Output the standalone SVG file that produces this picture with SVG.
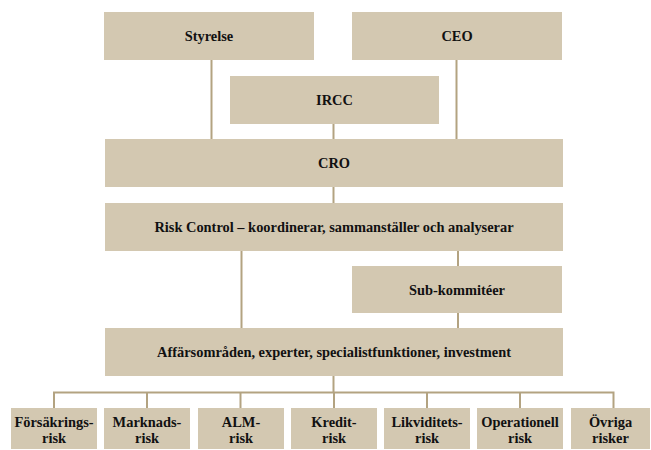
<svg xmlns="http://www.w3.org/2000/svg" width="651" height="450" viewBox="0 0 651 450">
<style>
.box{fill:#D3C8B1}
.t{font-family:"Liberation Serif","Times New Roman",serif;font-weight:bold;font-size:14.4px;fill:#111;text-anchor:middle}
.c{stroke:#B3A381;stroke-width:2;fill:none}
</style>
<rect width="651" height="450" fill="#fff"/>
<g id="connectors">
<line class="c" x1="211.5" y1="60" x2="211.5" y2="139"/>
<line class="c" x1="456.5" y1="60" x2="456.5" y2="139"/>
<line class="c" x1="333.5" y1="124" x2="333.5" y2="139"/>
<line class="c" x1="333.5" y1="187" x2="333.5" y2="203"/>
<line class="c" x1="241.5" y1="251" x2="241.5" y2="328"/>
<line class="c" x1="458" y1="251" x2="458" y2="266"/>
<line class="c" x1="458" y1="313" x2="458" y2="328"/>
<line class="c" x1="333.5" y1="376" x2="333.5" y2="393"/>
<polyline class="c" points="54,408 54,392.5 613.5,392.5 613.5,408"/>
<line class="c" x1="147" y1="392.5" x2="147" y2="408"/>
<line class="c" x1="240.5" y1="392.5" x2="240.5" y2="408"/>
<line class="c" x1="334" y1="392.5" x2="334" y2="408"/>
<line class="c" x1="427" y1="392.5" x2="427" y2="408"/>
<line class="c" x1="520" y1="392.5" x2="520" y2="408"/>
</g>
<g id="styrelse"><rect class="box" x="104" y="12" width="210" height="48"/><text class="t" x="209" y="41">Styrelse</text></g>
<g id="ceo"><rect class="box" x="352" y="12" width="210" height="48"/><text class="t" x="457" y="41">CEO</text></g>
<g id="ircc"><rect class="box" x="230" y="76" width="209" height="48"/><text class="t" x="334.5" y="105">IRCC</text></g>
<g id="cro"><rect class="box" x="105" y="139" width="458" height="48"/><text class="t" x="334" y="168">CRO</text></g>
<g id="riskcontrol"><rect class="box" x="105" y="203" width="458" height="48"/><text class="t" x="334" y="232">Risk Control – koordinerar, sammanställer och analyserar</text></g>
<g id="subkommiteer"><rect class="box" x="352" y="266" width="210" height="47"/><text class="t" x="457" y="295">Sub-kommitéer</text></g>
<g id="affarsomraden"><rect class="box" x="105" y="328" width="458" height="48"/><text class="t" x="334" y="357">Affärsområden, experter, specialistfunktioner, investment</text></g>
<g id="forsakringsrisk"><rect class="box" x="11" y="408" width="86" height="41"/><text class="t" x="54" y="427">Försäkrings-</text><text class="t" x="54" y="443">risk</text></g>
<g id="marknadsrisk"><rect class="box" x="104" y="408" width="86" height="41"/><text class="t" x="147" y="427">Marknads-</text><text class="t" x="147" y="443">risk</text></g>
<g id="almrisk"><rect class="box" x="198" y="408" width="86" height="41"/><text class="t" x="241" y="427">ALM-</text><text class="t" x="241" y="443">risk</text></g>
<g id="kreditrisk"><rect class="box" x="291" y="408" width="86" height="41"/><text class="t" x="334" y="427">Kredit-</text><text class="t" x="334" y="443">risk</text></g>
<g id="likviditetsrisk"><rect class="box" x="384" y="408" width="86" height="41"/><text class="t" x="427" y="427">Likviditets-</text><text class="t" x="427" y="443">risk</text></g>
<g id="operationellrisk"><rect class="box" x="477" y="408" width="86" height="41"/><text class="t" x="520" y="427">Operationell</text><text class="t" x="520" y="443">risk</text></g>
<g id="ovrigarisker"><rect class="box" x="571" y="408" width="79" height="41"/><text class="t" x="610.5" y="427">Övriga</text><text class="t" x="610.5" y="443">risker</text></g>
</svg>
